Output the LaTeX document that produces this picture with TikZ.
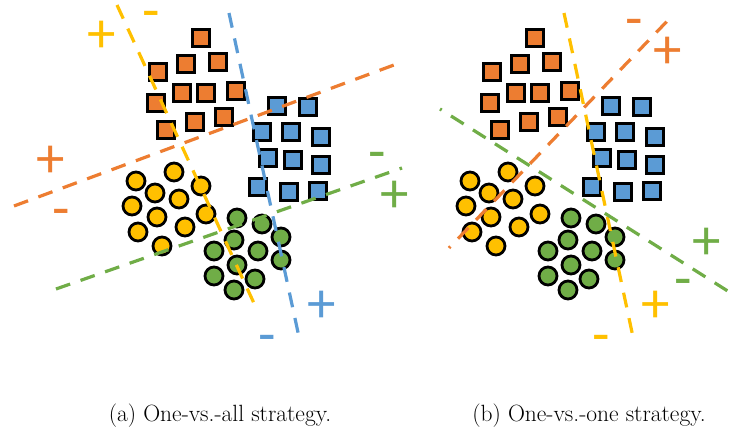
\documentclass[tikz,border=0pt]{standalone}
\usepackage{fontspec}
\newfontfamily\signfont{Carlito}
\usetikzlibrary{arrows.meta, positioning}

\definecolor{orangeC}{HTML}{ED7D31}
\definecolor{blueC}{HTML}{5B9BD5}
\definecolor{yellowC}{HTML}{FFC000}
\definecolor{greenC}{HTML}{70AD47}

\begin{document}
\begin{tikzpicture}[x=1pt, y=-1pt,
  box/.style={draw=black, line width=2.8pt, minimum size=17.5pt, inner sep=0pt},
  dot/.style={circle, draw=black, line width=2.8pt, minimum size=18pt, inner sep=0pt},
  cut/.style={line width=3.2pt, dash pattern=on 15pt off 11pt},
  sign/.style={inner sep=0pt, font={\signfont\fontsize{57}{57}\selectfont}},
  minus/.style={sign, yshift=-6pt},
  caption/.style={anchor=base, inner sep=0pt, font={\fontsize{23.5}{28}\selectfont}}]
  \useasboundingbox (0,0) rectangle (734,427);

  % النقاط في اللوحتين
  \foreach \p/\dx in {a/0, b/334} {
    \begin{scope}[shift={(\dx,0)}]
      \foreach \x/\y [count=\i] in {201/38, 186/64, 218/62, 158/72, 182/93, 206/93,
                                    236/91, 156/103, 224/117, 195/122, 166/130}
        \node[box, fill=orangeC] (o\p\i) at (\x,\y) {};
      \foreach \x/\y [count=\i] in {277/106, 308/107, 262/132, 291/132, 321/137, 268/158,
                                    293/160, 321/165, 258/187, 289/192, 318/191}
        \node[box, fill=blueC] (b\p\i) at (\x,\y) {};
      \foreach \x/\y [count=\i] in {136/181, 174/172, 201/186, 155/193, 179/199, 132/206,
                                    206/214, 157/217, 185/227, 138/232, 162/246}
        \node[dot, fill=yellowC] (y\p\i) at (\x,\y) {};
      \foreach \x/\y [count=\i] in {237/218, 262/224, 281/237, 234/240, 214/251, 258/251,
                                    281/260, 237/265, 214/276, 255/279, 234/290}
        \node[dot, fill=greenC] (g\p\i) at (\x,\y) {};
    \end{scope}
  }

  % (a) واحد ضد الكل
  \draw[cut, yellowC] (117,5) -- (258,312);
  \draw[cut, blueC] (229,13) -- (299,337);
  \draw[cut, orangeC] (14,206) -- (402,62);
  \draw[cut, greenC] (56,289) -- (402,168);

  \node[sign, yellowC] (plusYa) at (102,37) {+};
  \node[minus, yellowC] (minusYa) at (151,14) {-};
  \node[sign, orangeC] (plusOa) at (51,162) {+};
  \node[minus, orangeC] (minusOa) at (61,212) {-};
  \node[minus, greenC] (minusGa) at (377,155) {-};
  \node[sign, greenC] (plusGa) at (395,197) {+};
  \node[sign, blueC] (plusBa) at (322,307) {+};
  \node[minus, blueC] (minusBa) at (267,338) {-};

  % (b) واحد ضد واحد
  \draw[cut, yellowC] (564,13) -- (633,337);
  \draw[cut, orangeC, dash phase=13pt] (449,248) -- (674,14);
  \draw[cut, greenC, dash phase=13pt] (440,109) -- (734,295);

  \node[minus, orangeC] (minusOb) at (634,22) {-};
  \node[sign, orangeC] (plusOb) at (668,53) {+};
  \node[sign, greenC] (plusGb) at (707,244) {+};
  \node[minus, greenC] (minusGb) at (683,282) {-};
  \node[sign, yellowC] (plusYb) at (656,307) {+};
  \node[minus, yellowC] (minusYb) at (601,338) {-};

  % العناوين
  \node[caption] (capA) at (220,422) {(a) One-vs.-all strategy.};
  \node[caption] (capB) at (589,422) {(b) One-vs.-one strategy.};
\end{tikzpicture}
\end{document}
